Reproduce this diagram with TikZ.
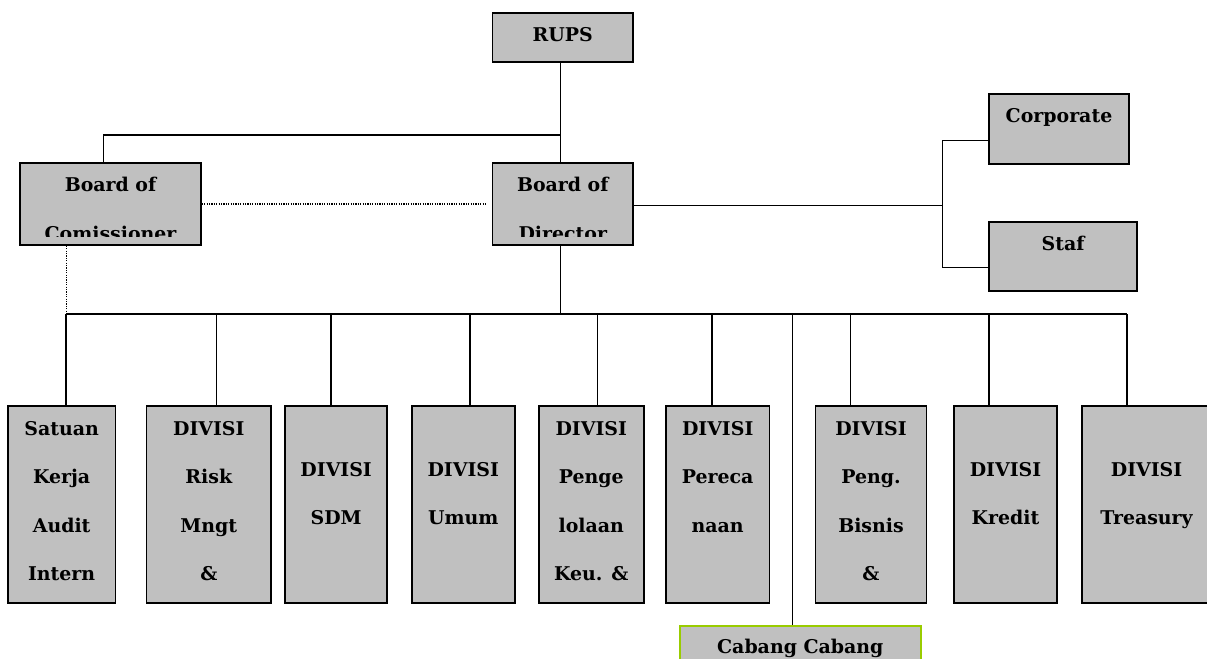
\documentclass[tikz,border=0pt]{standalone}
\usepackage{fontspec}
\setmainfont{DejaVu Serif}
\usetikzlibrary{positioning,calc}
\definecolor{boxgray}{RGB}{192,192,192}
\definecolor{branchgreen}{RGB}{153,204,0}

\begin{document}
\begin{tikzpicture}[x=0.75pt,y=-0.75pt,
				unit/.style={rectangle, draw=black, fill=boxgray, line width=1.3pt, inner sep=0pt},
				caption/.style={anchor=north, inner sep=0pt, align=center, font=\bfseries\fontsize{14.2}{36.4}\selectfont},
				link/.style={line width=1.1pt}
			]
			\useasboundingbox (0,0) rectangle (1207,659);
			% top level
			\node[unit, minimum width=105.4pt, minimum height=36.75pt] (rups) at (562.75,37.8) {};
			\node[unit, minimum width=135.75pt, minimum height=61.5pt] (boc) at (110.5,204) {};
			\node[unit, minimum width=105.4pt, minimum height=61.5pt] (bod) at (562.75,204) {};
			\node[unit, minimum width=105pt, minimum height=52.5pt] (corp) at (1059,129) {};
			\node[unit, minimum width=111pt, minimum height=52pt] (staf) at (1063,256.35) {};
			% divisions
			\foreach \n/\cx/\w in {sat/61.65/80.9, risk/208.8/93.3, sdm/336.15/76.7, umum/463.25/77.2, keu/591.25/78.7,
				renc/717.7/77.85, bis/871/83.1, kred/1005.5/76.95, treas/1146.5/96.75}
				\node[unit, minimum width=\w pt, minimum height=147.75pt] (\n) at (\cx,504.2) {};
			\node[unit, draw=branchgreen, line width=1.6pt, minimum width=180.45pt, minimum height=55.7pt] (cabang) at (800.3,662.85) {};
			% texts
			\node[caption] (rups-t) at ($(rups.north)+(0,14.7)$) {RUPS};
			\begin{scope}
			\clip (boc.north west) rectangle ($(boc.south east)+(0,-9)$);
			\node[caption] (boc-t) at ($(boc.north)+(0,15)$) {Board of\\Comissioner};
			\end{scope}
			\begin{scope}
			\clip (bod.north west) rectangle ($(bod.south east)+(0,-9)$);
			\node[caption] (bod-t) at ($(bod.north)+(0,15)$) {Board of\\Director};
			\end{scope}
			\node[caption] (corp-t) at ($(corp.north)+(0,15)$) {Corporate};
			\node[caption] (staf-t) at ($(staf.north)+(0,15.3)$) {Staf};
			\node[caption] (sat-t) at ($(sat.north)+(0,16)$) {Satuan\\Kerja\\Audit\\Intern};
			\node[caption] (risk-t) at ($(risk.north)+(0,16)$) {DIVISI\\Risk\\Mngt\\\&};
			\node[caption] (sdm-t) at ($(sdm.north)+(0,57)$) {DIVISI\\SDM};
			\node[caption] (umum-t) at ($(umum.north)+(0,57)$) {DIVISI\\Umum};
			\node[caption] (keu-t) at ($(keu.north)+(0,16)$) {DIVISI\\Penge\\lolaan\\Keu. \&};
			\node[caption] (renc-t) at ($(renc.north)+(0,16)$) {DIVISI\\Pereca\\naan};
			\node[caption] (bis-t) at ($(bis.north)+(0,16)$) {DIVISI\\Peng.\\Bisnis\\\&};
			\node[caption] (kred-t) at ($(kred.north)+(0,57)$) {DIVISI\\Kredit};
			\node[caption] (treas-t) at ($(treas.north)+(0,57)$) {DIVISI\\Treasury};
			\node[caption] (cabang-t) at ($(cabang.north)+(0,14.3)$) {Cabang Cabang};
			% connectors
			\begin{scope}[link]
			\draw ($(rups.south)+(-2.25,0)$) -- ($(bod.north)+(-2.25,0)$);
			\coordinate (split) at ($(rups.south)+(-2.25,71.7)$);
			\draw (split) -| ($(boc.north)+(-6.9,0)$);
			\coordinate (bus) at ($(bod.south)+(-2.25,68.3)$);
			\draw ($(bod.south)+(-2.25,0)$) -- (bus);
			\foreach \n/\dx in {sat/4.35, risk/7.5, sdm/-5.05, umum/6.75, keu/6.25, renc/-5.7, bis/-20.5, kred/-16.5, treas/-19.5}{
				\coordinate (\n-top) at ($(\n.north)+(\dx,0)$);
				\draw (\n-top) -- (\n-top |- bus);
			}
			\draw (sat-top |- bus) -- (treas-top |- bus);
			\coordinate (cabang-top) at ($(cabang.north)+(-7.9,0)$);
			\draw (cabang-top |- bus) -- (cabang-top);
			\coordinate (fork) at (942.7,205.7);
			\draw ($(bod.east)+(0,1.7)$) -- (fork);
			\draw ($(corp.west)+(0,11.7)$) -| (fork) |- ($(staf.west)+(0,11.35)$);
			\end{scope}
			\begin{scope}[line width=0.8pt, dash pattern=on 0.9pt off 0.9pt]
			\draw (boc.east) -- ($(bod.west)+(-5.5,0)$);
			\coordinate (boc-foot) at ($(boc.south)+(-44.2,0)$);
			\draw (boc-foot) -- (boc-foot |- bus);
			\end{scope}
\end{tikzpicture}
\end{document}
